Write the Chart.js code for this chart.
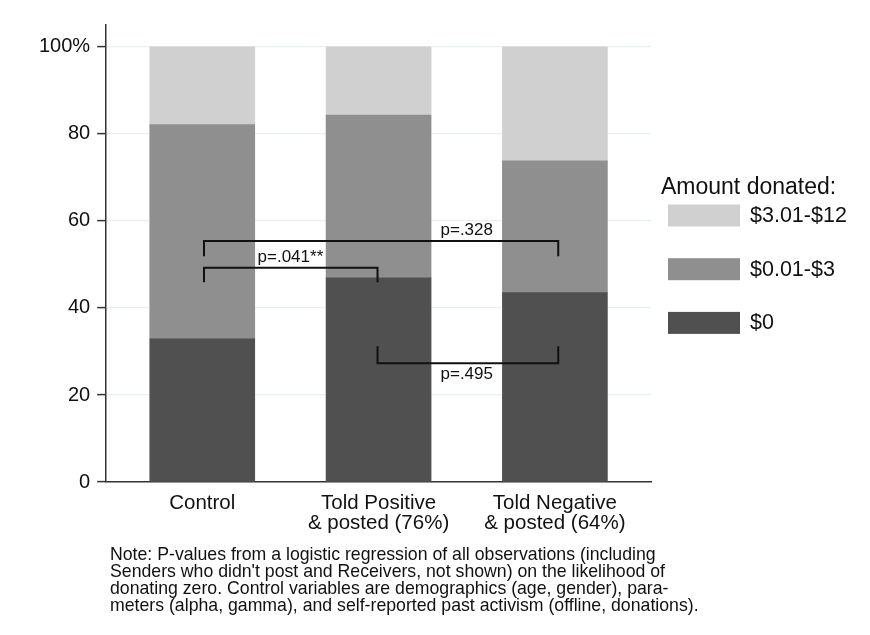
<!DOCTYPE html>
<html>
<head>
<meta charset="utf-8">
<script src="https://cdn.jsdelivr.net/npm/chart.js@4/dist/chart.umd.min.js"></script>
<style>
  html, body { margin: 0; padding: 0; background: #ffffff; }
  canvas { display: block; }
</style>
</head>
<body>
<canvas id="chart" width="870" height="635"></canvas>
<script>
// Share of participants by amount donated, per treatment group (percent)
const categories = [
  'Control',
  ['Told Positive', '& posted (76%)'],
  ['Told Negative', '& posted (64%)']
];
const categoryPositions = [1, 2, 3];
const shareZero = [32.9, 46.9, 43.5];     // $0
const shareLow = [49.2, 37.4, 30.3];      // $0.01-$3
const shareHigh = [17.9, 15.7, 26.2];     // $3.01-$12
const seriesLabels = ['$0', '$0.01-$3', '$3.01-$12'];
const yTickValues = [0, 20, 40, 60, 80, 100];

// Pairwise comparisons: group positions, bracket level, p-value text
const comparisonFrom = [1.01, 1.01, 1.994];
const comparisonTo = [1.994, 3.019, 3.019];
const comparisonLevel = [49.25, 55.4, 27.3];
const comparisonEnd = [45.9, 51.9, 31.2];
const comparisonText = ['p=.041**', 'p=.328', 'p=.495'];
const comparisonTextX = [1.5, 2.5, 2.5];
const comparisonTextY = [51.7, 57.8, 24.8];

const noteLines = [
  'Note: P-values from a logistic regression of all observations (including',
  "Senders who didn't post and Receivers, not shown) on the likelihood of",
  'donating zero. Control variables are demographics (age, gender), para-',
  'meters (alpha, gamma), and self-reported past activism (offline, donations).'
];

const FONT = "'Liberation Sans', Arial, Helvetica, sans-serif";
const colors = ['#505050', '#8f8f8f', '#d0d0d0'];

function points(values) {
  return values.map((v, i) => ({ x: categoryPositions[i], y: v }));
}

const whiteBackground = {
  id: 'whiteBackground',
  beforeDraw(chart) {
    const ctx = chart.ctx;
    ctx.save();
    ctx.fillStyle = '#ffffff';
    ctx.fillRect(0, 0, chart.width, chart.height);
    ctx.restore();
  }
};

// Brackets with p-values between groups
const comparisonBrackets = {
  id: 'comparisonBrackets',
  afterDatasetsDraw(chart) {
    const { ctx, scales: { x, y } } = chart;
    ctx.save();
    ctx.strokeStyle = '#111111';
    ctx.lineWidth = 2;
    ctx.lineCap = 'butt';
    for (let i = 0; i < comparisonText.length; i++) {
      const x0 = x.getPixelForValue(comparisonFrom[i]);
      const x1 = x.getPixelForValue(comparisonTo[i]);
      const yl = y.getPixelForValue(comparisonLevel[i]);
      const ye = y.getPixelForValue(comparisonEnd[i]);
      ctx.beginPath();
      ctx.moveTo(x0, ye);
      ctx.lineTo(x0, yl);
      ctx.lineTo(x1, yl);
      ctx.lineTo(x1, ye);
      ctx.stroke();
    }
    ctx.fillStyle = '#111111';
    ctx.font = '17px ' + FONT;
    ctx.textAlign = 'center';
    ctx.textBaseline = 'middle';
    for (let i = 0; i < comparisonText.length; i++) {
      ctx.fillText(comparisonText[i],
        x.getPixelForValue(comparisonTextX[i]),
        y.getPixelForValue(comparisonTextY[i]));
    }
    ctx.restore();
  }
};

// Legend on the right, top entry is the highest amount
const sideLegend = {
  id: 'sideLegend',
  afterDraw(chart) {
    const ctx = chart.ctx;
    ctx.save();
    ctx.fillStyle = '#111111';
    ctx.textAlign = 'left';
    ctx.textBaseline = 'alphabetic';
    ctx.font = '23px ' + FONT;
    ctx.fillText('Amount donated:', 661, 194);
    const sets = chart.data.datasets.slice().reverse();
    ctx.font = '21.5px ' + FONT;
    ctx.textBaseline = 'middle';
    sets.forEach((ds, i) => {
      const top = 204.5 + i * 53.7;
      ctx.fillStyle = ds.backgroundColor;
      ctx.fillRect(668, top, 72, 22);
      ctx.fillStyle = '#111111';
      ctx.fillText(ds.label, 750, top + 11.5);
    });
    ctx.restore();
  }
};

const footNote = {
  id: 'footNote',
  afterDraw(chart) {
    const ctx = chart.ctx;
    ctx.save();
    ctx.fillStyle = '#111111';
    ctx.font = '17.7px ' + FONT;
    ctx.textAlign = 'left';
    ctx.textBaseline = 'alphabetic';
    noteLines.forEach((line, i) => ctx.fillText(line, 110, 560 + i * 17));
    ctx.restore();
  }
};

new Chart(document.getElementById('chart'), {
  type: 'bar',
  data: {
    datasets: [
      { label: seriesLabels[0], data: points(shareZero), backgroundColor: colors[0] },
      { label: seriesLabels[1], data: points(shareLow), backgroundColor: colors[1] },
      { label: seriesLabels[2], data: points(shareHigh), backgroundColor: colors[2] }
    ]
  },
  options: {
    responsive: false,
    animation: false,
    devicePixelRatio: 1,
    layout: { padding: { left: 32, right: 219, top: 25, bottom: 98 } },
    datasets: { bar: { barThickness: 105, borderWidth: 0 } },
    plugins: {
      legend: { display: false },
      tooltip: { enabled: false }
    },
    scales: {
      x: {
        type: 'linear',
        stacked: true,
        offset: false,
        min: 0.455,
        max: 3.545,
        grid: { display: false, offset: false },
        border: { display: true, color: '#333333', width: 1.5 },
        afterBuildTicks(scale) {
          scale.ticks = categoryPositions.map(v => ({ value: v }));
        },
        ticks: {
          padding: 4,
          color: '#111111',
          maxRotation: 0,
          autoSkip: false,
          font: { family: FONT, size: 20.5, lineHeight: 0.95 },
          callback(value) {
            const idx = categoryPositions.indexOf(value);
            return idx >= 0 ? categories[idx] : '';
          }
        }
      },
      y: {
        stacked: true,
        min: 0,
        max: 105,
        afterBuildTicks(scale) {
          scale.ticks = yTickValues.map(v => ({ value: v }));
        },
        grid: {
          color: '#e8f0f2',
          lineWidth: 1.2,
          tickLength: 9,
          tickColor: '#333333',
          tickWidth: 1.5
        },
        border: { display: true, color: '#333333', width: 1.5 },
        ticks: {
          padding: 7,
          color: '#111111',
          font: { family: FONT, size: 20 },
          callback(value) {
            return value === 100 ? '100%' : String(value);
          }
        }
      }
    }
  },
  plugins: [whiteBackground, comparisonBrackets, sideLegend, footNote]
});
</script>
</body>
</html>
